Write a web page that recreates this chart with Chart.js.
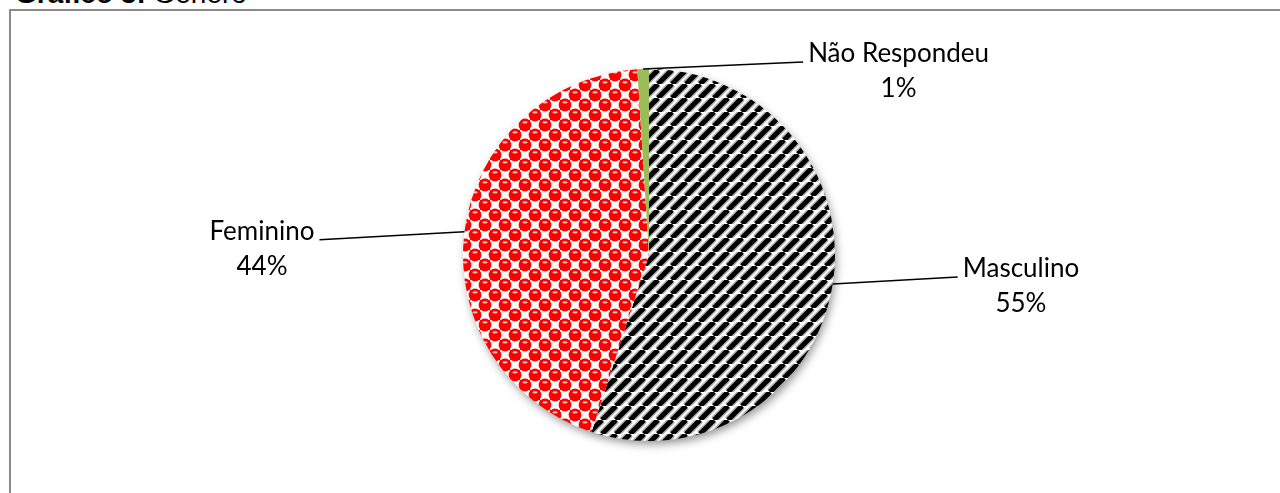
<!DOCTYPE html>
<html>
<head>
<meta charset="utf-8">
<script src="https://cdn.jsdelivr.net/npm/chart.js@4.4.1/dist/chart.umd.min.js"></script>
<style>
  html, body { margin: 0; padding: 0; background: #fff; overflow: hidden; }
  #title { position: absolute; left: 15px; top: -20px; font: 28px "Liberation Sans", Arial, sans-serif; line-height: 28px; white-space: nowrap; color: #000; }
  #frame { position: absolute; left: 9px; top: 9px; width: 1400px; height: 600px; border: 2px solid #8a8a8a; box-sizing: border-box; }
  #wrap { position: absolute; left: 0; top: 0; width: 1280px; height: 493px; }
</style>
</head>
<body>
<div id="title"><b>Gráfico 3:</b> Gênero</div>
<div id="frame"></div>
<div id="wrap"><canvas id="pieChart"></canvas></div>
<script>
// DATA
const categories = ['Masculino', 'Feminino', 'Não Respondeu'];
const values = [55, 44, 1];

// label leader offsets (from slice edge), layout only
const labelOffsets = [[125, -7], [-145, 8], [160, -7]];

// PATTERNS
function stripePattern() {
    const s = 14;
    const t = document.createElement('canvas');
    t.width = t.height = s;
    const g = t.getContext('2d');
    g.fillStyle = '#fff';
    g.fillRect(0, 0, s, s);
    for (const [w, col] of [[8, 'rgba(0,0,0,0.3)'], [5, '#000']]) {
        g.strokeStyle = col;
        g.lineWidth = w;
        for (let k = -1; k <= 1; k++) {
            g.beginPath();
            g.moveTo(k * s, s);
            g.lineTo(k * s + s, 0);
            g.stroke();
        }
    }
    return g.createPattern(t, 'repeat');
}

function dotPattern() {
    const s = 20, h = 10;
    const t = document.createElement('canvas');
    t.width = t.height = s;
    const g = t.getContext('2d');
    g.fillStyle = '#fff';
    g.fillRect(0, 0, s, s);
    g.fillStyle = '#ff0000';
    g.fillRect(0, 0, h, h);
    g.fillRect(h, h, h, h);
    const centers = [];
    for (const [cx, cy] of [[5, 5], [15, 15]])
        for (const dx of [-s, 0, s])
            for (const dy of [-s, 0, s]) centers.push([cx + dx, cy + dy]);
    centers.forEach(([x, y]) => { g.beginPath(); g.arc(x, y, 6.4, 0, Math.PI * 2); g.fill(); });
    g.fillStyle = 'rgba(255,200,200,0.95)';
    centers.forEach(([x, y]) => { g.beginPath(); g.ellipse(x, y - 2.6, 2.6, 1.1, 0, 0, Math.PI * 2); g.fill(); });
    return g.createPattern(t, 'repeat');
}

// LABELS + SHADOW
const pieDecor = {
    id: 'pieDecor',
    beforeDatasetsDraw(chart) {
        const arc = chart.getDatasetMeta(0).data[0];
        const c = chart.ctx;
        c.save();
        c.shadowColor = 'rgba(0,0,0,0.45)';
        c.shadowBlur = 10;
        c.shadowOffsetX = 2;
        c.shadowOffsetY = 4;
        c.fillStyle = '#fff';
        c.beginPath();
        c.arc(arc.x, arc.y, arc.outerRadius - 1, 0, Math.PI * 2);
        c.fill();
        c.restore();
    },
    afterDatasetsDraw(chart) {
        const meta = chart.getDatasetMeta(0);
        const total = values.reduce((a, b) => a + b, 0);
        const c = chart.ctx;
        c.save();
        c.font = '26px Lato';
        c.fillStyle = '#000';
        c.strokeStyle = '#000';
        c.lineWidth = 1.5;
        meta.data.forEach((arc, i) => {
            const mid = (arc.startAngle + arc.endAngle) / 2;
            const sx = arc.x + Math.cos(mid) * arc.outerRadius;
            const sy = arc.y + Math.sin(mid) * arc.outerRadius;
            const ex = sx + labelOffsets[i][0];
            const ey = sy + labelOffsets[i][1];
            c.beginPath();
            c.moveTo(sx, sy);
            c.lineTo(ex, ey);
            c.stroke();
            const name = categories[i];
            const pct = Math.round(values[i] / total * 100) + '%';
            const w = c.measureText(name).width;
            const tx = ex < sx ? ex - 5 - w : ex + 5;
            c.textAlign = 'left';
            c.textBaseline = 'alphabetic';
            c.fillText(name, tx, ey);
            c.textAlign = 'center';
            c.fillText(pct, tx + w / 2, ey + 35);
        });
        c.restore();
    }
};

// CHART
const ctx = document.getElementById('pieChart');

new Chart(ctx, {
    type: 'pie',
    data: {
        labels: categories,
        datasets: [{
            data: values,
            backgroundColor: [stripePattern(), dotPattern(), '#9bbb59'],
            borderWidth: 0
        }]
    },
    options: {
        responsive: true,
        maintainAspectRatio: false,
        animation: false,
        layout: { padding: { left: 463, right: 445, top: 69, bottom: 52 } },
        plugins: {
            legend: { display: false },
            tooltip: { enabled: false }
        }
    },
    plugins: [pieDecor]
});
</script>
</body>
</html>
